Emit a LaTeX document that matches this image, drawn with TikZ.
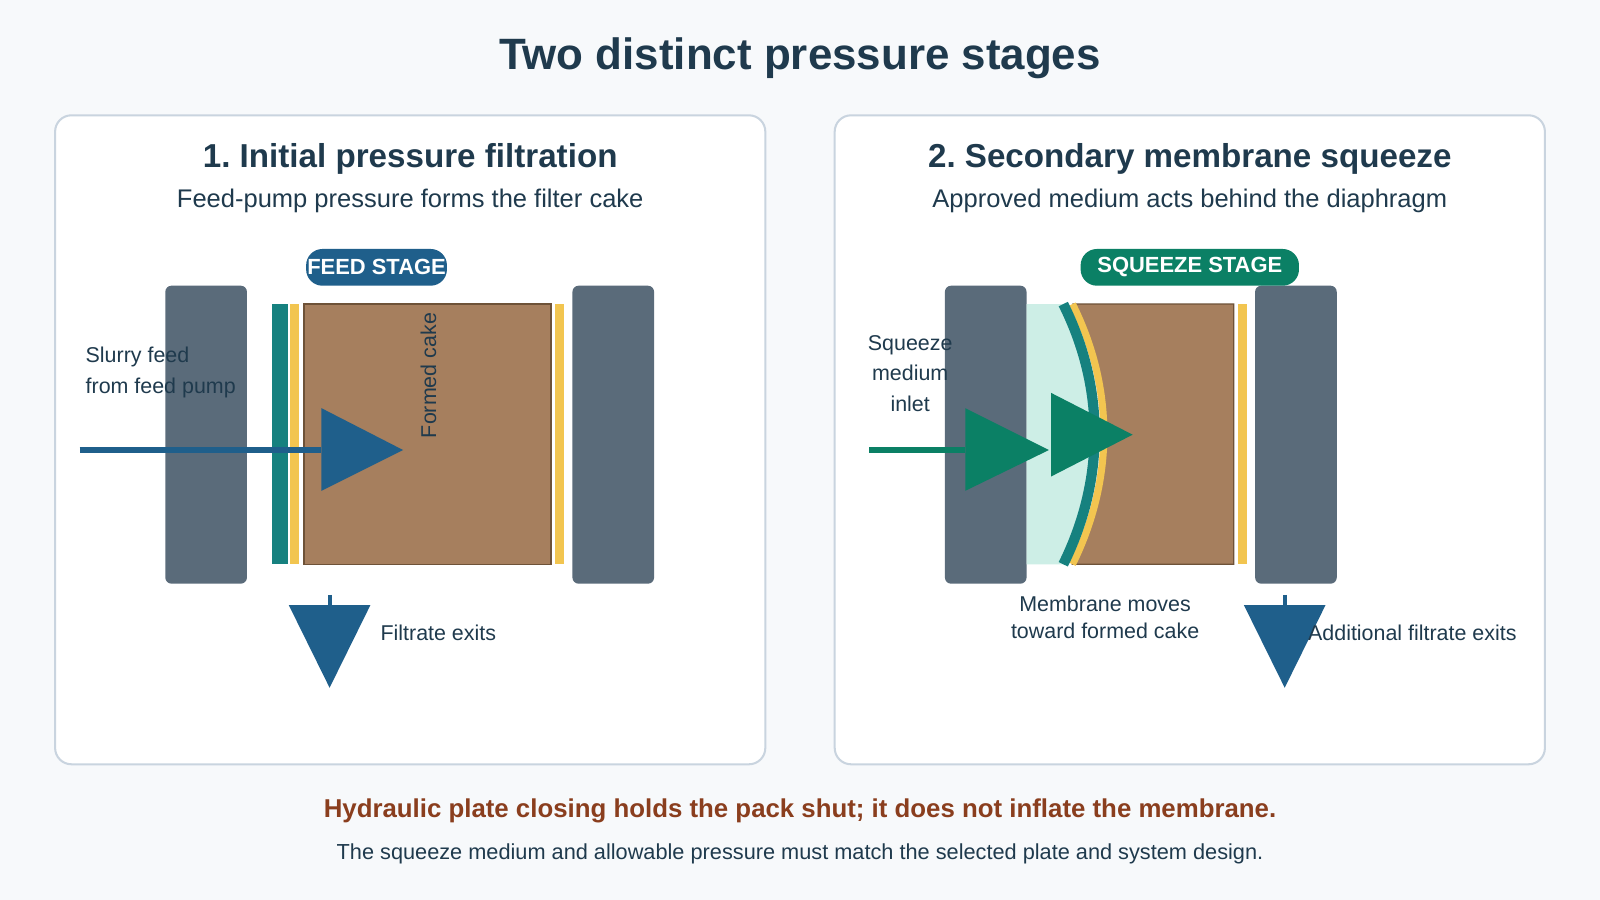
\documentclass[tikz,border=0pt]{standalone}
\usepackage{fontspec}
\setmainfont{Liberation Sans}
\frenchspacing
\usetikzlibrary{positioning}
\definecolor{bgc}{HTML}{F7F9FB}
\definecolor{ink}{HTML}{1F3A4D}
\definecolor{frame}{HTML}{C9D4DF}
\definecolor{plate}{HTML}{5A6B7A}
\definecolor{cloth}{HTML}{16817F}
\definecolor{seal}{HTML}{F2C550}
\definecolor{cake}{HTML}{A67F5E}
\definecolor{cakeb}{HTML}{6E5238}
\definecolor{feed}{HTML}{1F5F8B}
\definecolor{sq}{HTML}{0B8065}
\definecolor{mem}{HTML}{CDEEE6}
\definecolor{warn}{HTML}{8A3E1E}
\tikzset{
  panel/.style={draw=frame,line width=2,fill=white,rounded corners=16},
  platebox/.style={fill=plate,rounded corners=6},
  badge/.style={rounded corners=16,text=white,font=\bfseries\fontsize{21.5}{24}\selectfont,minimum height=36,inner xsep=0},
  lbl/.style={text=ink,font=\fontsize{21}{30}\selectfont,inner sep=0.75pt}
}
\begin{document}
\begin{tikzpicture}[x=1pt,y=-1pt]
\useasboundingbox (0,0) rectangle (1568,882);
\fill[bgc] (0,0) rectangle (1568,882);

% Title
\node (title) at (784,57) [text=ink,font=\bfseries\fontsize{43}{46}\selectfont] {Two distinct pressure stages};

% Panels
\draw[panel] (54,113) rectangle (750,749);
\draw[panel] (818,113) rectangle (1514,749);

%% ---- stage 1
\node (h1) at (402,156) [text=ink,font=\bfseries\fontsize{32.5}{36}\selectfont] {1. Initial pressure filtration};
\node (s1) at (402,197) [text=ink,font=\fontsize{25}{28}\selectfont] {Feed-pump pressure forms the filter cake};
\fill[platebox] (162,280) rectangle (242,572);
\fill[platebox] (561,280) rectangle (641,572);
\fill[cloth] (267,298) rectangle (282,553);
\fill[seal] (284,298) rectangle (293,553);
\draw[cakeb,fill=cake,line width=1.2] (298,298) rectangle (540,553);
\fill[seal] (544,298) rectangle (553,553);
\fill[feed,rounded corners=16] (300,244) rectangle (438,280);
\node (b1) at (369,262) [badge] {FEED STAGE};
\node (cake1) at (420,368) [lbl,rotate=90] {Formed cake};
% feed arrow
\coordinate (f1a) at (78,441);
\coordinate (f1b) at (315,441);
\draw[feed,line width=5] (f1a) -- (f1b);
\fill[feed] (315,400) -- (395,441) -- (315,481) -- cycle;
\node (slurry) at (83,365) [lbl,anchor=west,align=left] {Slurry feed\\from feed pump};
% filtrate
\coordinate (d1a) at (323,583);
\coordinate (d1b) at (323,596);
\draw[feed,line width=4] (d1a) -- (d1b);
\fill[feed] (283,593) -- (363,593) -- (323,674) -- cycle;
\node (fx1) at (372,620) [lbl,anchor=west] {Filtrate exits};

%% ---- stage 2
\node (h2) at (1166,156) [text=ink,font=\bfseries\fontsize{32.5}{36}\selectfont] {2. Secondary membrane squeeze};
\node (s2) at (1166,197) [text=ink,font=\fontsize{25}{28}\selectfont] {Approved medium acts behind the diaphragm};
\fill[platebox] (926,280) rectangle (1006,572);
\fill[platebox] (1230,280) rectangle (1310,572);
\draw[cakeb,fill=cake,line width=1.2] (1051,298) -- (1209,298) -- (1209,553) -- (1051,553) .. controls (1092,470) and (1092,380) .. (1051,298);
\fill[mem] (1006,298) -- (1042,298) .. controls (1083,380) and (1083,470) .. (1042,553) -- (1006,553) -- cycle;
\draw[seal,line width=7] (1051,298) .. controls (1092,380) and (1092,470) .. (1051,553);
\draw[cloth,line width=10] (1042,298) .. controls (1083,380) and (1083,470) .. (1042,553);
\fill[seal] (1213,298) rectangle (1222,553);
\node (b2) at (1166,262) [badge,fill=sq,minimum width=214,rounded corners=16] {SQUEEZE STAGE};
% squeeze arrow
\coordinate (f2a) at (852,441);
\coordinate (f2b) at (946,441);
\draw[sq,line width=5] (f2a) -- (f2b);
\fill[sq] (946,400) -- (1028,441) -- (946,481) -- cycle;
\fill[sq] (1030,385) -- (1110,426) -- (1030,467) -- cycle;
\node (inlet) at (892,366) [lbl,align=center] {Squeeze\\medium\\inlet};
\node (moves) at (1083,605) [lbl,align=center,font=\fontsize{21}{27}\selectfont] {Membrane moves\\toward formed cake};
% filtrate
\coordinate (d2a) at (1259,583);
\coordinate (d2b) at (1259,596);
\draw[feed,line width=4] (d2a) -- (d2b);
\fill[feed] (1219,593) -- (1299,593) -- (1259,674) -- cycle;
\node (fx2) at (1281,620) [lbl,anchor=west] {Additional filtrate exits};

% Footer
\node (note) at (784,795) [text=warn,font=\bfseries\fontsize{25.3}{28}\selectfont] {Hydraulic plate closing holds the pack shut; it does not inflate the membrane.};
\node (foot) at (784,837) [text=ink,font=\fontsize{21.3}{24}\selectfont] {The squeeze medium and allowable pressure must match the selected plate and system design.};
\end{tikzpicture}
\end{document}
